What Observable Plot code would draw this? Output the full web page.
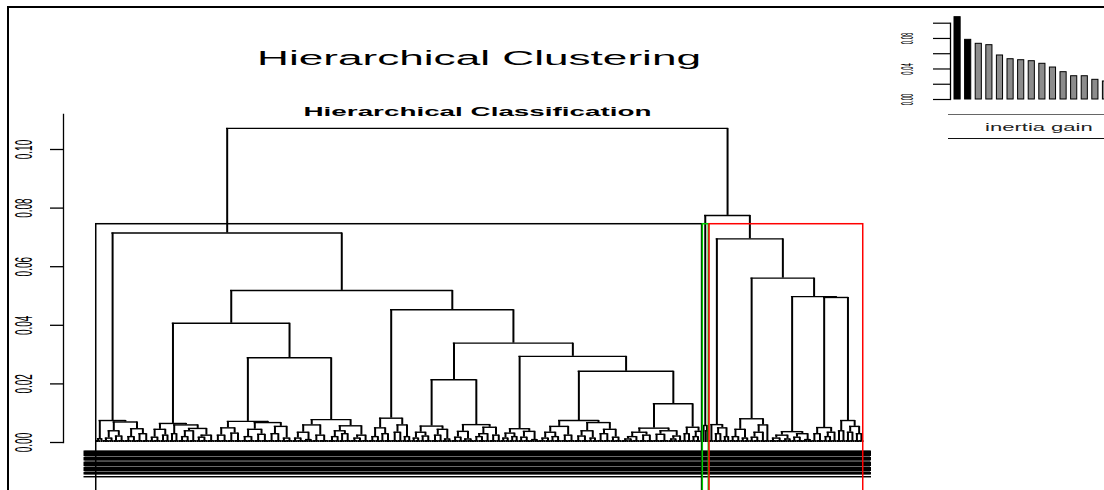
<!DOCTYPE html>
<html>
<head>
<meta charset="utf-8">
<script src="https://cdn.jsdelivr.net/npm/d3@7"></script>
<script src="https://cdn.jsdelivr.net/npm/@observablehq/plot@0.6"></script>
<style>
  html, body { margin: 0; padding: 0; background: #fff; overflow: hidden; }
  #wrap { position: relative; width: 1104px; height: 490px; overflow: hidden; font-family: "Liberation Sans", Arial, sans-serif; }
  #wrap svg { position: absolute; left: 0; top: 0; }
  #figframe { position: absolute; left: 7px; top: 6px; width: 1200px; height: 600px; border-left: 2px solid #000; border-top: 2px solid #000; box-sizing: border-box; }
  #gain { position: absolute; left: 948px; top: 113.5px; width: 182px; height: 23px; border-top: 1px solid #666; border-bottom: 1.5px solid #111; text-align: center; }
  #gain span { display: inline-block; font-size: 11px; line-height: 23px; color: #222; transform: scaleX(2.0); transform-origin: 50% 50%; padding-top: 1px; }
</style>
</head>
<body>
<div id="wrap">
  <div id="figframe"></div>
  <div id="gain"><span id="gainText"></span></div>
</div>
<script>
// ---------------- data ----------------
const mainTitle = "Hierarchical Clustering";
const subTitle = "Hierarchical Classification";
const heightTicks = [0, 0.02, 0.04, 0.06, 0.08, 0.10];

// height at which the leaves of a small leaf group are joined
const leafMergeHeight = 0.0006;

// small sub-trees near the leaves: [mergeHeight, left, right]; a bare number n = a group of n leaves
const T1  = [0.0075, [0.0013, 2, 1], [0.0070, [0.0040, [0.0015, 3, 2], [0.0022, 2, 3]], [0.0047, [0.0020, 3, 2], [0.0030, 3, 3]]]];
const T2  = [0.0065, [0.0045, [0.0018, 2, 3], [0.0025, 2, 2]], [0.0060, [0.0030, 2, 2], [0.0048, [0.0040, [0.0020, 3, 2], 3], [0.0025, [0.0018, 2, 3], 3]]]];
const T3  = [0.0072, [0.0050, [0.0025, 3, 3], [0.0032, 3, 3]], [0.0068, [0.0045, [0.0020, 3, 3], [0.0028, 3, 3]], [0.0055, [0.0030, 3, 3], [0.0015, 2, 3]]]];
const T4  = [0.0078, [0.0060, [0.0035, [0.0015, 2, 3], [0.0010, 2, 2]], [0.0025, 3, 4]], [0.0057, [0.0040, [0.0020, 3, 2], [0.0030, 2, 3]], [0.0025, [0.0015, 3, 2], 3]]];
const T5  = [0.0083, [0.0050, [0.0020, 3, 2], [0.0030, 2, 3]], [0.0060, [0.0035, 3, 2], [0.0020, 2, 2]]];
const T6  = [0.0056, [0.0035, [0.0015, 2, 2], [0.0022, 2, 3]], [0.0045, [0.0025, 3, 2], [0.0012, 2, 2]]];
const T7  = [0.0061, [0.0038, [0.0018, 3, 2], [0.0012, 2, 3]], [0.0052, [0.0030, [0.0020, 2, 3], 2], [0.0025, 3, 2]]];
const T8  = [0.0047, [0.0032, [0.0015, 2, 2], [0.0020, 2, 2]], [0.0038, [0.0018, 2, 3], [0.0010, 2, 2]]];
const T9  = [0.0075, [0.0055, [0.0035, [0.0015, 3, 2], [0.0020, 2, 3]], [0.0025, 3, 3]], [0.0068, [0.0040, [0.0022, 3, 3], [0.0015, 2, 2]], [0.0045, [0.0030, 3, 3], [0.0018, 2, 3]]]];
const T10 = [0.0049, [0.0035, [0.0020, [0.0012, 3, 2], 3], [0.0025, 3, 3]], [0.0040, [0.0028, 3, 4], [0.0022, [0.0012, 2, 2], 2]]];
const T11 = [0.0052, [0.0030, 2, 2], [0.0038, [0.0020, 2, 2], 1]];
const T12 = [0.0058, 1, [0.0040, 1, 1]];
const T13 = [0.0061, 2, [0.0050, [0.0030, 2, 2], [0.0020, 2, 1]]];
const T14 = [0.0081, [0.0045, [0.0020, 3, 2], [0.0015, 2, 2]], [0.0060, [0.0035, [0.0018, 2, 3], 2], 2]];
const T15 = [0.0037, [0.0025, [0.0015, 3, 3], [0.0012, 2, 2]], [0.0030, [0.0018, 2, 3], [0.0010, 2, 2]]];
const T16 = [0.0051, [0.0030, 2, 3], [0.0035, [0.0020, 2, 2], 2]];
const T17 = [0.0075, [0.0040, 2, 2], [0.0055, [0.0035, 2, 2], [0.0030, 2, 2]]];

// upper part of the tree
const tree = [0.1072,
  [0.0715, T1,
    [0.0519,
      [0.0407, T2, [0.0289, T3, T4]],
      [0.0453, T5,
        [0.0339, [0.0214, T6, T7],
          [0.0294, T8, [0.0243, T9, [0.0132, T10, T11]]]]]]],
  [0.0775, T12,
    [0.0695, T13,
      [0.0561, T14,
        [0.0498, T15, [0.0495, T16, T17]]]]]];

const nClusters = 3;
const clusterColors = ["#000000", "#00cd00", "#ff0000"];

// stacked rows of the (illegible, overlapping) leaf labels under the tree: [top, bottom] in height units
const labelRows = [[-0.0029, -0.0048], [-0.0051, -0.0063], [-0.0067, -0.0082], [-0.0085, -0.0099], [-0.0102, -0.0111], [-0.0116, -0.0121]];
const labelBacking = [[-0.0029, -0.0111]];

// inset bar chart: inertia gain
const gainValues = [0.1079, 0.0782, 0.0730, 0.0712, 0.0577, 0.0528, 0.0515, 0.0502, 0.0468, 0.0419, 0.0358, 0.0305, 0.0305, 0.0258, 0.0236];
const gainTicks = [0, 0.02, 0.04, 0.06, 0.08, 0.10];
const gainTickLabels = [0, 0.04, 0.08];
const gainLabel = "inertia gain";

// ---------------- dendrogram layout ----------------
const vsegs = [], hsegs = [];
let leafCursor = 0;
function place(node) {
  if (typeof node === "number") {
    const first = leafCursor; leafCursor += node; const last = leafCursor - 1;
    if (node === 1) return {x: first, h: 0, first, last};
    for (let k = first; k <= last; ++k) vsegs.push({x: k, y1: 0, y2: leafMergeHeight});
    hsegs.push({y: leafMergeHeight, x1: first, x2: last});
    return {x: (first + last) / 2, h: leafMergeHeight, first, last};
  }
  const [h, L, R] = node;
  const a = place(L), b = place(R);
  vsegs.push({x: a.x, y1: a.h, y2: h}, {x: b.x, y1: b.h, y2: h});
  hsegs.push({y: h, x1: a.x, x2: b.x});
  return {x: (a.x + b.x) / 2, h, first: a.first, last: b.last, kids: [a, b]};
}
const root = place(tree);
const N = leafCursor;

const merges = [];
(function collect(i) { if (i.kids) { merges.push(i.h); i.kids.forEach(collect); } })(root);
merges.sort((a, b) => b - a);
const cutHeight = (merges[nClusters - 2] + merges[nClusters - 1]) / 2;
const groups = [];
(function cut(i) { if (i.kids && i.h > cutHeight) i.kids.forEach(cut); else groups.push(i); })(root);
const rectBase = -0.05; // below the cropped bottom edge
const clusterRects = groups.map((g, k) => ({x1: g.first - 0.34, x2: g.last + 0.33, y1: rectBase, y2: cutHeight, color: clusterColors[k]}));

const font = "'Liberation Sans', Arial, Helvetica, sans-serif";

// ---------------- main plot ----------------
const main = Plot.plot({
  width: 1104, height: 490,
  marginLeft: 63, marginRight: 210, marginTop: 114, marginBottom: 48,
  style: {fontFamily: font, background: "white", color: "#000"},
  color: {type: "identity"},
  x: {domain: [0, N - 1], range: [96.5, 862], axis: null},
  y: {domain: [0, 0.10], range: [442, 149], axis: null},
  marks: [
    Plot.frame({anchor: "left", stroke: "#000", strokeWidth: 1.3}),
    Plot.axisY({ticks: heightTicks, tickSize: 13, tickPadding: 26, tickRotate: -90, textAnchor: "middle", lineAnchor: "middle",
      fontSize: 10, tickFormat: d3.format(".2f"), label: null, strokeWidth: 1.3}),
    Plot.rect(labelBacking, {x1: () => 0, x2: () => N - 1, y1: d => d[0], y2: d => d[1], fill: "#7a7a7a", insetLeft: -12, insetRight: -8}),
    Plot.rect(labelRows, {x1: () => 0, x2: () => N - 1, y1: d => d[0], y2: d => d[1], fill: "#000", insetLeft: -13, insetRight: -9}),
    Plot.ruleX(vsegs, {x: "x", y1: "y1", y2: "y2", stroke: "#000", strokeWidth: 2}),
    Plot.ruleY(hsegs, {y: "y", x1: "x1", x2: "x2", stroke: "#000", strokeWidth: 1.4, strokeLinecap: "square"}),
    Plot.rect(clusterRects, {x1: "x1", x2: "x2", y1: "y1", y2: "y2", stroke: "color", fill: "none", strokeWidth: 1.5}),
    Plot.text([mainTitle], {frameAnchor: "top", text: d => d, dy: -49.5, lineAnchor: "bottom", fontSize: 20, fill: "#000"}),
    Plot.text([subTitle], {frameAnchor: "top", text: d => d, dx: -1.5, dy: 1, lineAnchor: "bottom", fontSize: 13, fontWeight: "bold", fill: "#000"})
  ]
});

// ---------------- inset plot ----------------
const gainData = gainValues.map((v, i) => ({rank: i + 1, v, fill: i < nClusters - 1 ? "#000000" : "#8c8c8c"}));
const step = 10.6, padIn = 0.42;
const inset = Plot.plot({
  width: 1104, height: 490,
  marginLeft: 950, marginRight: 0, marginTop: 22.7, marginBottom: 391,
  style: {fontFamily: font, background: "none", color: "#000"},
  color: {type: "identity"},
  x: {type: "band", domain: gainData.map(d => d.rank), range: [954, 954 + step * (gainData.length - padIn)], paddingInner: padIn, paddingOuter: 0, align: 0, round: false, axis: null},
  y: {domain: [0, 0.10], range: [99, 22.7], axis: null},
  marks: [
    Plot.barY(gainData, {x: "rank", y: "v", fill: "fill", stroke: "#000", strokeWidth: 1}),
    Plot.frame({anchor: "left", stroke: "#000", strokeWidth: 1.3}),
    Plot.axisY({ticks: gainTicks, tickSize: 17, tickPadding: 26.3, tickRotate: -90, textAnchor: "middle", lineAnchor: "middle",
      fontSize: 6, label: null, strokeWidth: 1.2,
      tickFormat: d => gainTickLabels.some(t => Math.abs(t - d) < 1e-9) ? d3.format(".2f")(d) : ""})
  ]
});

const wrap = document.getElementById("wrap");
wrap.insertBefore(inset, wrap.firstChild);
wrap.insertBefore(main, wrap.firstChild);
document.getElementById("gainText").textContent = gainLabel;

// horizontally stretched lettering, as in the reference
function stretchRotated(svg, sx) {
  svg.querySelectorAll("text").forEach(el => {
    if (!/^\d\.\d\d$/.test(el.textContent.trim())) return;
    const t = el.getAttribute("transform") || "";
    if (t.includes("rotate")) el.setAttribute("transform", t.replace("rotate", `scale(${sx},1) rotate`));
  });
}
function fitWidth(svg, content, w) {
  svg.querySelectorAll("text").forEach(el => {
    if (el.textContent.trim() === content) {
      el.setAttribute("textLength", w);
      el.setAttribute("lengthAdjust", "spacingAndGlyphs");
    }
  });
}
stretchRotated(main, 2.4);
stretchRotated(inset, 2.8);
fitWidth(main, mainTitle, 444);
fitWidth(main, subTitle, 348);
</script>
</body>
</html>
